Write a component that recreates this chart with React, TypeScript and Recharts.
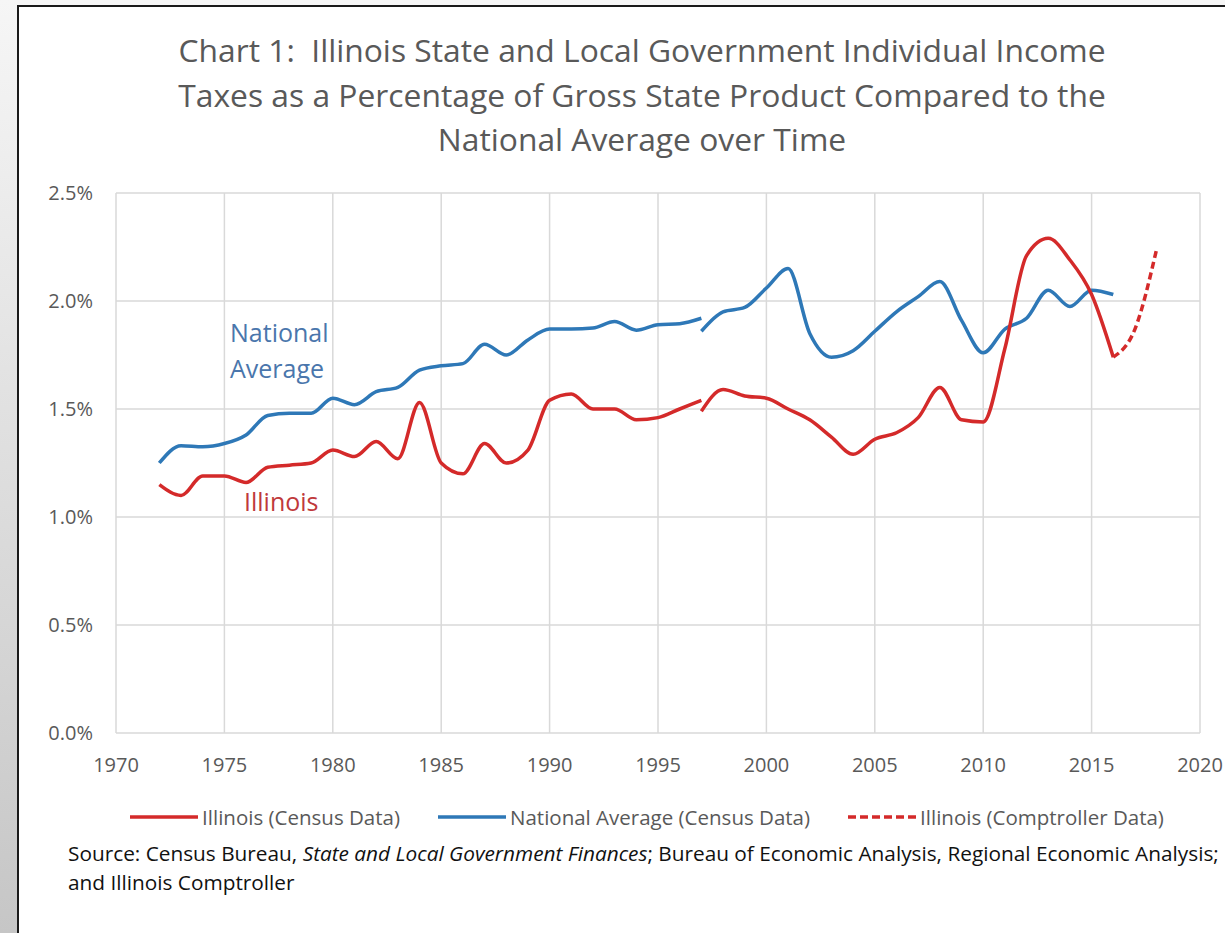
import { LineChart, Line, XAxis, YAxis, CartesianGrid } from "recharts";

// Illinois, census data, first series (1972-1997)
const ilYearsA = [1972, 1973, 1974, 1975, 1976, 1977, 1978, 1979, 1980, 1981, 1982, 1983, 1984, 1985, 1986, 1987, 1988, 1989, 1990, 1991, 1992, 1993, 1994, 1995, 1996, 1997];
const ilValuesA = [1.15, 1.1, 1.19, 1.19, 1.16, 1.23, 1.24, 1.25, 1.31, 1.28, 1.35, 1.27, 1.53, 1.25, 1.2, 1.34, 1.25, 1.31, 1.54, 1.57, 1.5, 1.5, 1.45, 1.46, 1.5, 1.54];

// Illinois, census data, second series (1997-2016)
const ilYearsB = [1997, 1998, 1999, 2000, 2001, 2002, 2003, 2004, 2005, 2006, 2007, 2008, 2009, 2010, 2011, 2012, 2013, 2014, 2015, 2016];
const ilValuesB = [1.49, 1.59, 1.56, 1.55, 1.5, 1.45, 1.37, 1.29, 1.36, 1.39, 1.46, 1.6, 1.45, 1.44, 1.78, 2.21, 2.29, 2.19, 2.03, 1.74];

// Illinois, comptroller data
const ilCompYears = [2016, 2017, 2018];
const ilCompValues = [1.74, 1.87, 2.24];

// National average, census data
const usYearsA = [1972, 1973, 1974, 1975, 1976, 1977, 1978, 1979, 1980, 1981, 1982, 1983, 1984, 1985, 1986, 1987, 1988, 1989, 1990, 1991, 1992, 1993, 1994, 1995, 1996, 1997];
const usValuesA = [1.25, 1.33, 1.325, 1.34, 1.38, 1.47, 1.48, 1.48, 1.55, 1.52, 1.58, 1.6, 1.68, 1.7, 1.71, 1.8, 1.75, 1.82, 1.87, 1.87, 1.875, 1.905, 1.865, 1.89, 1.895, 1.92];
const usYearsB = [1997, 1998, 1999, 2000, 2001, 2002, 2003, 2004, 2005, 2006, 2007, 2008, 2009, 2010, 2011, 2012, 2013, 2014, 2015, 2016];
const usValuesB = [1.86, 1.95, 1.97, 2.06, 2.15, 1.85, 1.74, 1.77, 1.86, 1.95, 2.02, 2.09, 1.91, 1.76, 1.87, 1.92, 2.05, 1.975, 2.05, 2.03];

const xTicks = [1970, 1975, 1980, 1985, 1990, 1995, 2000, 2005, 2010, 2015, 2020];
const yTicks = [0, 0.5, 1, 1.5, 2, 2.5];

const titleLines = [
  "Chart 1:  Illinois State and Local Government Individual Income",
  "Taxes as a Percentage of Gross State Product Compared to the",
  "National Average over Time",
];

const legendItems = [
  { label: "Illinois (Census Data)", color: "#D42A2A", dash: false },
  { label: "National Average (Census Data)", color: "#2E78B7", dash: false },
  { label: "Illinois (Comptroller Data)", color: "#D42A2A", dash: true },
];

const RED = "#D42A2A";
const BLUE = "#2E78B7";
const FONT = "'Open Sans', sans-serif";

const toRows = (years: number[], values: number[]) =>
  years.map((year, i) => ({ year, value: values[i] }));

export default function App() {
  const ilA = toRows(ilYearsA, ilValuesA);
  const ilB = toRows(ilYearsB, ilValuesB);
  const ilComp = toRows(ilCompYears, ilCompValues);
  const usA = toRows(usYearsA, usValuesA);
  const usB = toRows(usYearsB, usValuesB);

  return (
    <div
      style={{
        position: "absolute",
        left: 0,
        top: 0,
        width: 1225,
        height: 933,
        background: "#f6f6f6",
        overflow: "hidden",
        fontFamily: FONT,
      }}
    >
      {/* grey strip on the left */}
      <div
        style={{
          position: "absolute",
          left: 0,
          top: 0,
          width: 17,
          height: 933,
          background: "linear-gradient(#f6f6f6, #c6c6c6)",
        }}
      />
      {/* framed white panel */}
      <div
        style={{
          position: "absolute",
          left: 17,
          top: 5,
          width: 1225,
          height: 940,
          background: "#fff",
          borderTop: "2px solid #1a1a1a",
          borderLeft: "2px solid #1a1a1a",
        }}
      />

      {titleLines.map((t, i) => (
        <div
          key={t}
          style={{
            position: "absolute",
            left: 0,
            width: 1284,
            top: 29 + i * 44.5,
            textAlign: "center",
            fontSize: 31.8,
            color: "#595959",
            lineHeight: "42px",
            whiteSpace: "pre",
          }}
        >
          {t}
        </div>
      ))}

      <div style={{ position: "absolute", left: 0, top: 0 }}>
        <LineChart width={1225} height={780} margin={{ top: 193, right: 25, bottom: 17, left: 0 }}>
          <CartesianGrid stroke="#d9d9d9" strokeWidth={1.5} horizontalValues={yTicks} verticalValues={xTicks} />
          <XAxis
            dataKey="year"
            type="number"
            domain={[1970, 2020]}
            ticks={xTicks}
            allowDuplicatedCategory={false}
            axisLine={false}
            tickLine={false}
            tickMargin={19}
            height={30}
            tick={{ fontSize: 20, fill: "#595959", fontFamily: FONT }}
          />
          <YAxis
            type="number"
            domain={[0, 2.5]}
            ticks={yTicks}
            width={116}
            axisLine={false}
            tickLine={false}
            tickMargin={17}
            tickFormatter={(v: number) => v.toFixed(1) + "%"}
            tick={{ fontSize: 20, fill: "#595959", fontFamily: FONT }}
          />
          <Line data={usA} dataKey="value" type="monotone" stroke={BLUE} strokeWidth={3.5} dot={false} isAnimationActive={false} />
          <Line data={usB} dataKey="value" type="monotone" stroke={BLUE} strokeWidth={3.5} dot={false} isAnimationActive={false} />
          <Line data={ilA} dataKey="value" type="monotone" stroke={RED} strokeWidth={3.5} dot={false} isAnimationActive={false} />
          <Line data={ilB} dataKey="value" type="monotone" stroke={RED} strokeWidth={3.5} dot={false} isAnimationActive={false} />
          <Line data={ilComp} dataKey="value" type="monotone" stroke={RED} strokeWidth={3.5} strokeDasharray="7 4" dot={false} isAnimationActive={false} />
        </LineChart>
      </div>

      {/* in-chart series labels */}
      <div style={{ position: "absolute", left: 230, top: 314, fontSize: 25, lineHeight: "36px", color: "#4A76AC" }}>
        National
        <br />
        Average
      </div>
      <div style={{ position: "absolute", left: 244, top: 484, fontSize: 25, lineHeight: "34px", color: "#C0393B" }}>
        Illinois
      </div>

      {/* legend */}
      <div
        style={{
          position: "absolute",
          left: 0,
          width: 1294,
          top: 802,
          display: "flex",
          justifyContent: "center",
          alignItems: "center",
          fontSize: 20.5,
          lineHeight: "30px",
          color: "#595959",
        }}
      >
        {legendItems.map((it, i) => (
          <div key={it.label} style={{ display: "flex", alignItems: "center", marginLeft: i === 0 ? 0 : 38 }}>
            <svg width={68} height={8} style={{ marginRight: 4 }}>
              <line
                x1={0}
                y1={4}
                x2={68}
                y2={4}
                stroke={it.color}
                strokeWidth={3.5}
                strokeDasharray={it.dash ? "8 4" : undefined}
              />
            </svg>
            <span>{it.label}</span>
          </div>
        ))}
      </div>

      {/* source note */}
      <div style={{ position: "absolute", left: 68, top: 839, fontSize: 20.8, lineHeight: "29px", color: "#111", whiteSpace: "nowrap" }}>
        Source: Census Bureau, <i>State and Local Government Finances</i>; Bureau of Economic Analysis, Regional Economic Analysis;
        <br />
        and Illinois Comptroller
      </div>
    </div>
  );
}
